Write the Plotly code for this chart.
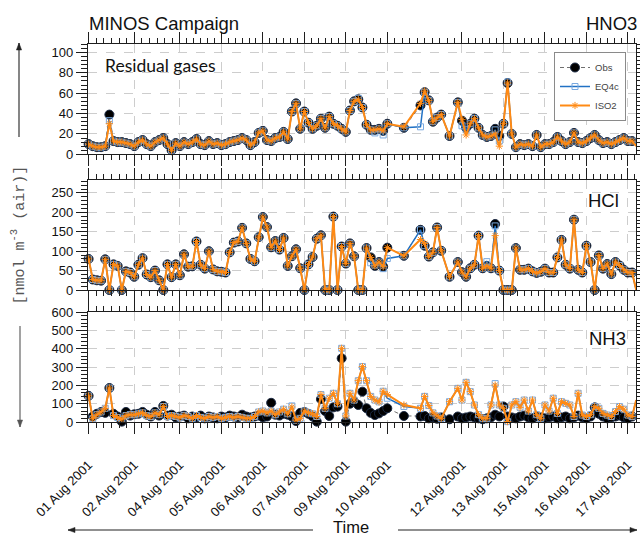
import plotly.graph_objects as go

# ---------------------------------------------------------------------------
# MINOS campaign, residual gases: observations vs. two thermodynamic models
# x is the sample number along the campaign record
# ---------------------------------------------------------------------------
sample = (
    [0, 1, 2, 3, 4, 5, 6, 7, 8, 9,
     10, 11, 12, 13, 14, 15, 16, 17, 18, 19,
     20, 21, 22, 23, 24, 25, 26, 27, 28, 29,
     30, 31, 32, 33, 34, 35, 36, 37, 38, 39,
     40, 41, 42, 43, 44, 45, 46, 47, 48, 49,
     50, 51, 52, 53, 54, 55, 56, 57, 58, 59,
     60, 61, 62, 63, 64, 65, 66, 67, 68, 69,
     70, 71, 72]
    + [76, 80, 81, 82, 83, 84, 85, 87]
    + [89, 90, 91, 92, 93, 94, 95, 96, 97, 98,
       99, 100, 101, 102, 103, 104, 105, 106, 107, 108,
       109, 110, 111, 112, 113, 114, 115, 116, 117, 118,
       119, 120, 121, 122, 123, 124, 125, 126, 127, 128,
       129, 130, 131, 132]
)

tick_samples = [0, 11, 22, 32, 42, 52, 62, 72, 90, 100, 110, 120, 130]
tick_labels = ["01 Aug 2001", "02 Aug 2001", "04 Aug 2001", "05 Aug 2001",
               "06 Aug 2001", "07 Aug 2001", "09 Aug 2001", "10 Aug 2001",
               "12 Aug 2001", "13 Aug 2001", "15 Aug 2001", "16 Aug 2001",
               "17 Aug 2001"]

# ---- HNO3 [nmol m-3] ----
hno3_obs = (
    [10, 8, 7, 7, 8, 39, 13, 12, 12, 11,
     10, 8, 12, 14, 10, 8, 12, 14, 16, 10,
     4, 11, 8, 12, 10, 12, 15, 10, 9, 13,
     10, 11, 9, 10, 12, 13, 14, 16, 14, 9,
     12, 21, 23, 14, 13, 16, 17, 22, 15, 42,
     50, 25, 42, 31, 25, 28, 35, 26, 37, 30,
     28, 25, 22, 43, 52, 54, 46, 29, 24, 24,
     25, 23, 30]
    + [26, 48, 61, 53, 32, 36, 39, 18]
    + [51, 33, 26, 30, 35, 26, 19, 17, 18, 25,
       18, 30, 70, 20, 7, 10, 9, 10, 8, 19,
       7, 10, 10, 12, 17, 13, 10, 12, 21, 12,
       11, 13, 16, 19, 14, 11, 12, 10, 12, 14,
       16, 13, 13, 12]
)
hno3_eq4c = (
    [10, 8, 7, 7, 8, 33, 13, 12, 12, 11,
     10, 8, 12, 14, 10, 8, 12, 14, 16, 10,
     4, 11, 8, 12, 10, 12, 15, 10, 9, 13,
     10, 11, 9, 10, 12, 13, 14, 16, 14, 9,
     12, 21, 23, 14, 13, 16, 17, 22, 15, 42,
     50, 25, 42, 31, 25, 28, 35, 26, 37, 30,
     28, 25, 22, 43, 52, 55, 46, 29, 24, 21,
     25, 19, 30]
    + [26, 27, 61, 53, 32, 36, 39, 18]
    + [51, 28, 24, 30, 35, 26, 19, 17, 18, 24,
       13, 30, 71, 20, 7, 10, 9, 10, 8, 19,
       7, 10, 10, 12, 17, 13, 10, 12, 21, 12,
       11, 13, 16, 19, 14, 11, 12, 10, 12, 14,
       16, 13, 13, 12]
)
hno3_iso2 = (
    [10, 8, 7, 7, 8, 30, 13, 12, 12, 11,
     10, 8, 12, 14, 10, 8, 12, 14, 16, 10,
     4, 11, 8, 12, 10, 12, 15, 10, 9, 13,
     10, 11, 9, 10, 12, 13, 14, 16, 14, 9,
     12, 21, 23, 14, 13, 16, 17, 22, 15, 42,
     50, 25, 42, 31, 25, 28, 35, 26, 37, 30,
     28, 25, 22, 43, 52, 54, 46, 29, 24, 24,
     25, 23, 30]
    + [27, 50, 62, 53, 32, 36, 39, 18]
    + [51, 34, 19, 30, 35, 26, 19, 17, 18, 20,
       8, 30, 70, 20, 7, 10, 9, 10, 8, 19,
       7, 10, 10, 12, 17, 13, 10, 12, 21, 12,
       11, 13, 16, 19, 14, 11, 12, 10, 12, 14,
       16, 13, 13, 8]
)

# ---- HCl [nmol m-3] ----
hcl_obs = (
    [80, 27, 25, 24, 79, 0, 66, 62, 0, 48,
     45, 34, 65, 82, 40, 33, 50, 25, 0, 66,
     33, 66, 38, 92, 60, 61, 125, 65, 55, 100,
     53, 48, 47, 45, 97, 122, 125, 160, 120, 80,
     74, 136, 188, 162, 110, 126, 104, 134, 62, 87,
     105, 56, 0, 66, 85, 132, 141, 0, 0, 189,
     0, 112, 68, 120, 87, 0, 0, 108, 84, 62,
     72, 60, 109]
    + [88, 155, 114, 86, 97, 161, 101, 34]
    + [72, 46, 34, 56, 65, 140, 56, 62, 56, 170,
       50, 0, 0, 0, 108, 52, 52, 55, 48, 44,
       47, 55, 45, 45, 84, 129, 65, 55, 181, 52,
       45, 114, 72, 0, 89, 55, 67, 41, 72, 63,
       52, 45, 45, 0]
)
hcl_eq4c = (
    [80, 27, 25, 24, 79, 0, 66, 62, 0, 48,
     45, 34, 65, 82, 40, 33, 50, 25, 0, 66,
     33, 66, 38, 92, 60, 61, 125, 65, 55, 100,
     53, 48, 47, 45, 97, 122, 125, 160, 120, 80,
     74, 136, 188, 162, 110, 126, 104, 134, 62, 87,
     105, 56, 0, 66, 85, 132, 141, 0, 0, 189,
     0, 112, 68, 120, 87, 0, 0, 108, 70, 64,
     72, 55, 81]
    + [88, 155, 114, 86, 97, 161, 101, 34]
    + [72, 46, 34, 56, 65, 140, 56, 73, 56, 165,
       50, 0, 0, 0, 108, 52, 52, 55, 48, 44,
       47, 55, 45, 45, 84, 129, 65, 55, 181, 52,
       45, 114, 72, 0, 89, 55, 67, 41, 72, 63,
       52, 45, 45, 0]
)
hcl_iso2 = (
    [80, 27, 25, 24, 79, 0, 66, 62, 0, 48,
     45, 34, 65, 82, 40, 33, 50, 25, 0, 66,
     33, 66, 38, 92, 60, 61, 125, 65, 55, 100,
     53, 48, 47, 45, 97, 122, 125, 160, 120, 80,
     74, 136, 188, 162, 110, 126, 104, 134, 62, 87,
     105, 56, 0, 66, 85, 132, 141, 0, 0, 189,
     0, 112, 68, 120, 87, 0, 0, 108, 84, 62,
     72, 60, 109]
    + [88, 130, 120, 86, 97, 161, 101, 34]
    + [72, 46, 34, 56, 65, 140, 56, 62, 56, 140,
       50, 0, 0, 0, 108, 52, 52, 55, 48, 44,
       47, 55, 45, 45, 84, 129, 65, 55, 181, 52,
       45, 114, 72, 0, 89, 55, 67, 41, 72, 63,
       52, 45, 45, 0]
)

# ---- NH3 [nmol m-3] ----
nh3_obs = (
    [143, 30, 45, 55, 50, 186, 45, 30, 2, 55,
     35, 42, 45, 55, 40, 30, 55, 35, 88, 35,
     40, 25, 30, 35, 20, 30, 25, 35, 20, 30,
     25, 20, 30, 25, 35, 30, 25, 40, 30, 25,
     30, 35, 25, 30, 105, 40, 35, 45, 40, 30,
     5, 50, 55, 45, 30, 2, 125, 60, 33, 80,
     84, 348, 2, 100, 111, 93, 166, 75, 50, 38,
     47, 60, 75]
    + [33, 30, 33, 20, 25, 18, 25, 15]
    + [30, 20, 25, 30, 25, 20, 15, 20, 25, 40,
       30, 85, 30, 25, 20, 30, 35, 25, 20, 30,
       25, 20, 25, 30, 20, 25, 30, 20, 25, 35,
       25, 20, 30, 80, 45, 30, 20, 25, 30, 35,
       25, 20, 30, 35]
)
nh3_eq4c = (
    [143, 18, 40, 55, 75, 186, 35, 25, 15, 35,
     40, 40, 45, 50, 35, 30, 50, 40, 85, 30,
     35, 30, 25, 35, 30, 20, 35, 25, 20, 30,
     25, 30, 20, 25, 30, 25, 30, 25, 20, 20,
     30, 55, 60, 50, 60, 40, 55, 70, 45, 88,
     10, 20, 60, 50, 45, 30, 150, 75, 130, 157,
     100, 403, 33, 157, 120, 226, 303, 226, 140, 120,
     110, 168, 130]
    + [85, 75, 140, 90, 50, 33, 20, 111]
    + [184, 120, 217, 166, 93, 40, 20, 20, 93, 210,
       93, 75, 2, 93, 111, 80, 120, 60, 120, 40,
       20, 93, 60, 130, 47, 111, 102, 93, 30, 157,
       38, 30, 40, 84, 75, 47, 38, 30, 57, 84,
       70, 38, 30, 120]
)
nh3_iso2 = (
    [143, 18, 40, 55, 75, 186, 35, 25, 15, 35,
     40, 40, 45, 50, 35, 30, 50, 40, 85, 30,
     35, 30, 25, 35, 30, 20, 35, 25, 20, 30,
     25, 30, 20, 25, 30, 25, 30, 25, 20, 20,
     30, 55, 60, 50, 60, 40, 55, 70, 45, 82,
     10, 20, 60, 50, 45, 30, 150, 75, 130, 157,
     100, 403, 33, 157, 120, 226, 303, 226, 140, 120,
     110, 168, 150]
    + [93, 75, 140, 90, 50, 33, 20, 111]
    + [184, 120, 217, 166, 93, 40, 20, 20, 93, 202,
       93, 75, 2, 93, 111, 80, 120, 60, 120, 40,
       20, 93, 60, 130, 47, 111, 102, 93, 30, 157,
       38, 30, 40, 84, 75, 47, 38, 30, 57, 84,
       70, 38, 30, 120]
)

# ---------------------------------------------------------------------------
W, H = 640, 537
FRAME = "#1e1e1e"
GRID = "#cdcdcd"
SANS = "Liberation Sans, Arial, Helvetica, sans-serif"
OBS_C, EQ_LINE, EQ_MARK, ISO_C = "#000000", "#2171c4", "#79a9e0", "#ff8a14"


def px_x(px):
    return px / W


def px_y(py):
    return 1 - py / H


x_dom = [px_x(88), px_x(636)]
y_doms = [[px_y(154.3), px_y(44.3)],
          [px_y(290.0), px_y(179.7)],
          [px_y(422.0), px_y(312.3)]]
y_ranges = [[0, 108], [0, 284], [0, 600]]
y_dticks = [20, 50, 100]
y_minor = [4, 10, 20]

# minor ticks: subdivide every major interval into ~1.75-sample steps
minor_vals = []
for a, b in zip(tick_samples[:-1], tick_samples[1:]):
    n = max(1, round((b - a) / 1.75))
    minor_vals += [a + (b - a) * k / n for k in range(1, n)]
minor_vals += [tick_samples[-1] + (tick_samples[-1] - tick_samples[-2]) / 6]

panels = [
    ("HNO3", hno3_obs, hno3_eq4c, hno3_iso2),
    ("HCl", hcl_obs, hcl_eq4c, hcl_iso2),
    ("NH3", nh3_obs, nh3_eq4c, nh3_iso2),
]

fig = go.Figure()
for k, (name, obs, eq4c, iso2) in enumerate(panels):
    xa = "x" if k == 0 else f"x{k + 1}"
    ya = "y" if k == 0 else f"y{k + 1}"
    first = k == 0
    fig.add_trace(go.Scatter(
        x=sample, y=obs, name="Obs", mode="lines+markers", xaxis=xa, yaxis=ya,
        line=dict(color="#4a4a4a", width=0.8, dash="4px,3px"),
        marker=dict(symbol="circle", size=9, color=OBS_C,
                    line=dict(color="#1b2a44", width=1)),
        cliponaxis=False, showlegend=first, legendgroup="obs"))
    fig.add_trace(go.Scatter(
        x=sample, y=eq4c, name="EQ4c", mode="lines+markers", xaxis=xa, yaxis=ya,
        line=dict(color=EQ_LINE, width=1.5),
        marker=dict(symbol="square-open", size=6, color=EQ_MARK,
                    line=dict(color=EQ_MARK, width=1)),
        cliponaxis=False, showlegend=first, legendgroup="eq4c"))
    fig.add_trace(go.Scatter(
        x=sample, y=iso2, name="ISO2", mode="lines+markers", xaxis=xa, yaxis=ya,
        line=dict(color=ISO_C, width=2),
        marker=dict(symbol="asterisk-open", size=6, color=ISO_C,
                    line=dict(color=ISO_C, width=1)),
        cliponaxis=False, showlegend=first, legendgroup="iso2"))

layout = dict(
    width=W, height=H, margin=dict(l=0, r=0, t=0, b=0, autoexpand=False),
    paper_bgcolor="white", plot_bgcolor="white",
    font=dict(family=SANS, size=13, color="#111"),
    showlegend=True,
    legend=dict(x=px_x(626), xanchor="right", y=px_y(52), yanchor="top",
                bgcolor="white", bordercolor="#8a8a8a", borderwidth=1,
                font=dict(family=SANS, size=9.5, color="#444"),
                itemwidth=30, tracegroupgap=0, traceorder="normal"),
)

for k in range(3):
    xkey = "xaxis" if k == 0 else f"xaxis{k + 1}"
    ykey = "yaxis" if k == 0 else f"yaxis{k + 1}"
    xa_anchor = "y" if k == 0 else f"y{k + 1}"
    ya_anchor = "x" if k == 0 else f"x{k + 1}"
    layout[xkey] = dict(
        domain=x_dom, anchor=xa_anchor, range=[-0.15, 131.95], automargin=False,
        tickmode="array", tickvals=tick_samples, ticktext=tick_labels,
        showticklabels=(k == 2), tickangle=-45, ticklabelstandoff=18,
        tickfont=dict(family=SANS, size=13, color="#111"),
        ticks="outside", ticklen=11, tickwidth=1, tickcolor=FRAME,
        showline=True, linecolor=FRAME, linewidth=1.2, mirror="allticks",
        showgrid=True, gridcolor=GRID, griddash="dash", gridwidth=0.8,
        zeroline=False,
        minor=dict(tickmode="array", tickvals=minor_vals, ticks="outside",
                   ticklen=5, tickwidth=1, tickcolor=FRAME, showgrid=False),
    )
    if k > 0:
        layout[xkey]["matches"] = "x"
    layout[ykey] = dict(
        domain=y_doms[k], anchor=ya_anchor, range=y_ranges[k], automargin=False,
        tickmode="linear", tick0=0, dtick=y_dticks[k],
        tickfont=dict(family=SANS, size=13, color="#111"),
        ticks="outside", ticklen=11, tickwidth=1, tickcolor=FRAME,
        showline=True, linecolor=FRAME, linewidth=1.2, mirror="allticks",
        showgrid=True, gridcolor=GRID, griddash="dash", gridwidth=0.8,
        zeroline=False,
        minor=dict(dtick=y_minor[k], tick0=0, ticks="outside", ticklen=6,
                   tickwidth=1, tickcolor=FRAME, showgrid=False),
    )

fig.update_layout(**layout)

# ---- text labels ----
ann = [
    dict(text="MINOS Campaign", x=px_x(87), y=px_y(23), xanchor="left",
         yanchor="middle", font=dict(family=SANS, size=18.5, color="#111")),
    dict(text="HNO3", x=px_x(639), y=px_y(24), xanchor="right",
         yanchor="middle", font=dict(family=SANS, size=18.5, color="#111")),
    dict(text="Residual gases", x=px_x(103), y=px_y(66), xanchor="left",
         yanchor="middle", font=dict(family="Lato, sans-serif", size=17.5, color="#111")),
    dict(text="HCl", x=px_x(621), y=px_y(200), xanchor="right",
         yanchor="middle", font=dict(family=SANS, size=18.5, color="#111")),
    dict(text="NH3", x=px_x(628), y=px_y(339), xanchor="right",
         yanchor="middle", font=dict(family=SANS, size=18.5, color="#111")),
    dict(text="Time", x=px_x(351), y=px_y(526.5), xanchor="center",
         yanchor="middle", font=dict(family=SANS, size=16.5, color="#111")),
    dict(text="[nmol m<sup>-3</sup> (air)]", x=px_x(18.5), y=px_y(235),
         xanchor="center", yanchor="middle", textangle=-90,
         font=dict(family="Liberation Mono, Courier New, monospace", size=15, color="#555")),
]
for a in ann:
    a.update(xref="paper", yref="paper", showarrow=False)
fig.update_layout(annotations=ann)

# ---- axis-direction arrows: shaft line + filled head ----
arrows = [
    # (tail_x, tail_y, head_x, head_y, colour) in pixels
    (19.0, 137, 19.0, 43, "#222"),
    (20.0, 326, 20.0, 427, "#555"),
    (313, 530, 68, 530, "#222"),
    (398, 530, 637, 530, "#222"),
]
shapes = []
for tx, ty, hx, hy, col in arrows:
    shapes.append(dict(type="line", xref="paper", yref="paper",
                       x0=px_x(tx), y0=px_y(ty), x1=px_x(hx), y1=px_y(hy),
                       line=dict(color=col, width=1.1)))
    # small triangle head
    L, Wd = 7.0, 2.6
    dx, dy = hx - tx, hy - ty
    n = (dx * dx + dy * dy) ** 0.5
    ux, uy = dx / n, dy / n
    bx, by = hx - ux * L, hy - uy * L
    p1 = (bx - uy * Wd, by + ux * Wd)
    p2 = (bx + uy * Wd, by - ux * Wd)
    path = (f"M {px_x(hx)},{px_y(hy)} L {px_x(p1[0])},{px_y(p1[1])} "
            f"L {px_x(p2[0])},{px_y(p2[1])} Z")
    shapes.append(dict(type="path", xref="paper", yref="paper", path=path,
                       fillcolor=col, line=dict(color=col, width=0.5)))
fig.update_layout(shapes=shapes)

fig.write_html("out.html", config=dict(displayModeBar=False))
